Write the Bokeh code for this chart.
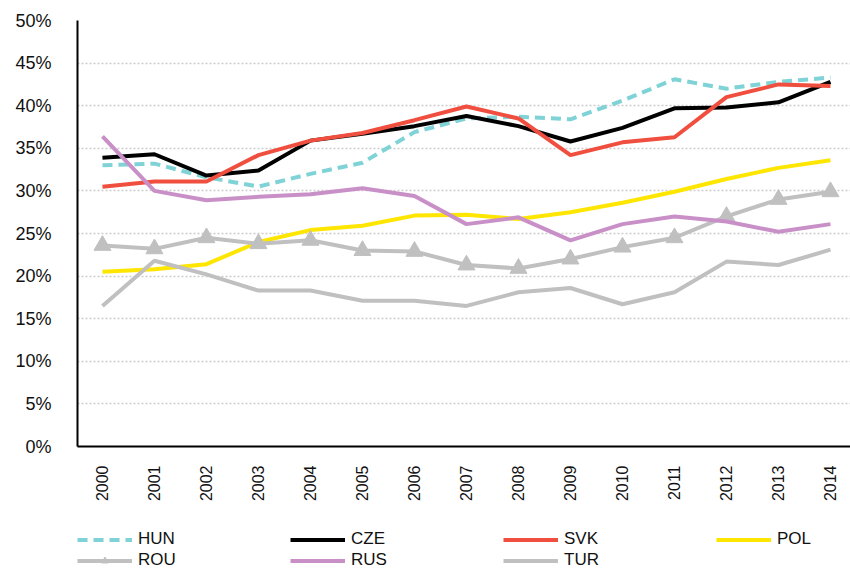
import math
from bokeh.plotting import figure
from bokeh.layouts import column
from bokeh.models import Legend, LegendItem, NumeralTickFormatter, Range1d, FixedTicker
from bokeh.embed import file_html
from bokeh.resources import INLINE

years = list(range(2000, 2015))
hun = [33.0, 33.2, 31.6, 30.5, 32.0, 33.3, 36.9, 38.5, 38.7, 38.4, 40.6, 43.1, 42.0, 42.8, 43.3]
cze = [33.9, 34.3, 31.8, 32.4, 35.9, 36.7, 37.6, 38.8, 37.6, 35.8, 37.4, 39.7, 39.8, 40.4, 42.8]
svk = [30.5, 31.1, 31.1, 34.2, 35.9, 36.8, 38.3, 39.9, 38.5, 34.2, 35.7, 36.3, 41.0, 42.5, 42.3]
pol = [20.5, 20.8, 21.4, 24.0, 25.4, 25.9, 27.1, 27.2, 26.7, 27.5, 28.6, 29.9, 31.4, 32.7, 33.6]
rou = [23.6, 23.2, 24.5, 23.8, 24.2, 23.0, 22.9, 21.3, 20.9, 22.0, 23.4, 24.5, 27.0, 29.0, 29.9]
rus = [36.4, 30.0, 28.9, 29.3, 29.6, 30.3, 29.4, 26.1, 26.9, 24.2, 26.1, 27.0, 26.4, 25.2, 26.1]
tur = [16.5, 21.8, 20.2, 18.3, 18.3, 17.1, 17.1, 16.5, 18.1, 18.6, 16.7, 18.1, 21.7, 21.3, 23.1]
y_ticks = [0, 0.05, 0.10, 0.15, 0.20, 0.25, 0.30, 0.35, 0.40, 0.45, 0.50]

series = [
    ("HUN", hun, "#7fd3d6", "10 6", False),
    ("CZE", cze, "#000000", "solid", False),
    ("SVK", svk, "#f04e3e", "solid", False),
    ("POL", pol, "#ffe600", "solid", False),
    ("ROU", rou, "#c0c0c0", "solid", True),
    ("RUS", rus, "#c990c8", "solid", False),
    ("TUR", tur, "#c0c0c0", "solid", False),
]

def frac(vals):
    return [v / 100.0 for v in vals]

FONT = "Liberation Sans"

p = figure(width=850, height=515, output_backend="svg", toolbar_location=None,
           x_range=Range1d(1999.52, 2014.385), y_range=Range1d(0, 0.5),
           min_border_left=77, min_border_right=0, min_border_top=20, min_border_bottom=69)
p.outline_line_color = None
p.background_fill_color = "white"
p.border_fill_color = "white"

p.xgrid.grid_line_color = None
p.ygrid.grid_line_color = "#cccccc"
p.ygrid.grid_line_dash = "2 2"
p.ygrid.grid_line_width = 1.5
p.yaxis.ticker = FixedTicker(ticks=y_ticks)
p.xaxis.ticker = FixedTicker(ticks=years)
p.yaxis.formatter = NumeralTickFormatter(format="0%")

for ax in (p.xaxis, p.yaxis):
    ax.axis_line_color = "black"
    ax.axis_line_width = 2
    ax.major_tick_line_color = None
    ax.minor_tick_line_color = None
    ax.major_label_text_font = FONT
    ax.major_label_text_color = "#111111"
p.yaxis.major_label_text_font_size = "18px"
p.xaxis.major_label_text_font_size = "16px"
p.xaxis.major_label_orientation = math.pi / 2
p.yaxis.major_label_standoff = 20
p.xaxis.major_label_standoff = 13

# legend-only figure below the chart (its series sit outside its own visible range)
lp = figure(width=850, height=55, output_backend="svg", toolbar_location=None,
            x_axis_location=None, y_axis_location=None,
            x_range=Range1d(0, 1), y_range=Range1d(0, 1),
            min_border_left=0, min_border_right=0, min_border_top=0, min_border_bottom=0)
lp.outline_line_color = None
lp.grid.visible = False
lp.border_fill_color = "white"
lp.background_fill_color = "white"

items = []
for name, vals, color, dash, tri in series:
    p.line(years, frac(vals), line_color=color, line_width=4, line_dash=dash)
    rs = [lp.line(years, frac(vals), line_color=color, line_width=4, line_dash=dash)]
    if tri:
        p.scatter(years, frac(vals), marker="triangle", size=17,
                  fill_color=color, line_color=color)
        rs.append(lp.scatter(years, frac(vals), marker="triangle", size=13,
                             fill_color=color, line_color=color))
    items.append(LegendItem(label=name, renderers=rs))

legend = Legend(items=items, orientation="horizontal", ncols=4, location=(0, 0))
legend.border_line_color = None
legend.background_fill_alpha = 0
legend.label_text_font = FONT
legend.label_text_font_size = "17px"
legend.label_text_color = "#111111"
legend.glyph_width = 55
legend.glyph_height = 17
legend.label_standoff = 6
legend.label_width = 151
legend.label_height = 17
legend.spacing = 1
legend.padding = 0
legend.margin = 0
lp.add_layout(legend, "center")

open("out.html", "w").write(file_html(column(p, lp, spacing=0), INLINE))
